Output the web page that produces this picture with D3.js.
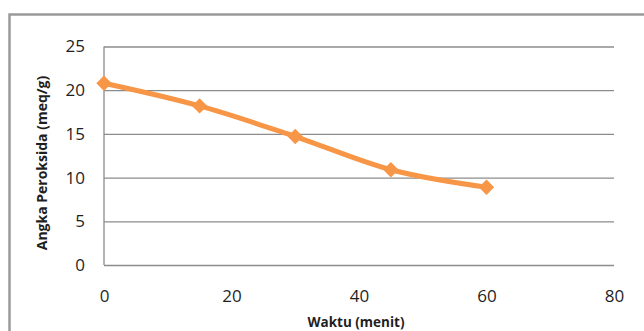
<!DOCTYPE html>
<html>
<head>
<meta charset="utf-8">
<script src="https://cdn.jsdelivr.net/npm/d3@7"></script>
<style>
  html, body { margin: 0; padding: 0; background: #fff; }
  svg { display: block; }
  text { font-family: "Open Sans", "Liberation Sans", sans-serif; fill: #1f1f1f; }
</style>
</head>
<body>
<svg id="chart" width="644" height="331"></svg>
<script>
// Peroxide value over heating time
const waktu = [0, 15, 30, 45, 60];
const angkaPeroksida = [20.8, 18.2, 14.7, 10.9, 8.9];
const xTicks = [0, 20, 40, 60, 80];
const yTicks = [0, 5, 10, 15, 20, 25];
const xTitle = "Waktu (menit)";
const yTitle = "Angka Peroksida (meq/g)";

const svg = d3.select("#chart");
const W = 644, H = 331;
const plot = { left: 104, right: 614, top: 46.5, bottom: 265 };

// chart frame
svg.append("rect")
  .attr("x", 9.5).attr("y", 14.5)
  .attr("width", W + 20).attr("height", H + 20)
  .attr("fill", "none")
  .attr("stroke", "#9a9a9a")
  .attr("stroke-width", 2.5);

const x = d3.scaleLinear().domain([0, 80]).range([plot.left, plot.right]);
const y = d3.scaleLinear().domain([0, 25]).range([plot.bottom, plot.top]);

// horizontal gridlines
svg.append("g")
  .attr("transform", `translate(${plot.left},0)`)
  .call(d3.axisLeft(y).tickValues(yTicks).tickSize(-(plot.right - plot.left)).tickFormat(""))
  .call(g => g.select(".domain").remove())
  .call(g => g.selectAll(".tick line").attr("stroke", "#8c8c8c").attr("stroke-width", 1.3));

// vertical axis line
svg.append("line")
  .attr("x1", plot.left).attr("x2", plot.left)
  .attr("y1", y(25)).attr("y2", y(0))
  .attr("stroke", "#8c8c8c").attr("stroke-width", 1.3);

// y tick labels
svg.append("g")
  .attr("transform", `translate(${plot.left},0)`)
  .call(d3.axisLeft(y).tickValues(yTicks).tickSize(0).tickPadding(19))
  .call(g => g.select(".domain").remove())
  .call(g => g.selectAll("text")
    .style("font-family", "'Open Sans', sans-serif")
    .style("font-size", "17px")
    .attr("fill", "#1f1f1f"));

// x tick labels
svg.append("g")
  .attr("transform", `translate(0,${plot.bottom})`)
  .call(d3.axisBottom(x).tickValues(xTicks).tickSize(0).tickPadding(25))
  .call(g => g.select(".domain").remove())
  .call(g => g.selectAll("text")
    .style("font-family", "'Open Sans', sans-serif")
    .style("font-size", "17px")
    .attr("fill", "#1f1f1f"));

// axis titles
svg.append("text")
  .attr("x", 356).attr("y", 327)
  .attr("text-anchor", "middle")
  .style("font-size", "13.5px").style("font-weight", "bold")
  .text(xTitle);

svg.append("text")
  .attr("transform", "translate(47,163) rotate(-90)")
  .attr("text-anchor", "middle")
  .style("font-size", "14px").style("font-weight", "bold")
  .text(yTitle);

// series
const pts = waktu.map((t, i) => [t, angkaPeroksida[i]]);
const line = d3.line()
  .x(d => x(d[0])).y(d => y(d[1]))
  .curve(d3.curveCatmullRom.alpha(0));

svg.append("path")
  .datum(pts)
  .attr("d", line)
  .attr("fill", "none")
  .attr("stroke", "#f79646")
  .attr("stroke-width", 5)
  .attr("stroke-linejoin", "round");

svg.append("g")
  .selectAll("path")
  .data(pts)
  .join("path")
  .attr("transform", d => `translate(${x(d[0])},${y(d[1])})`)
  .attr("d", d3.symbol(d3.symbolDiamond2, 150)())
  .attr("fill", "#f79646");
</script>
</body>
</html>
